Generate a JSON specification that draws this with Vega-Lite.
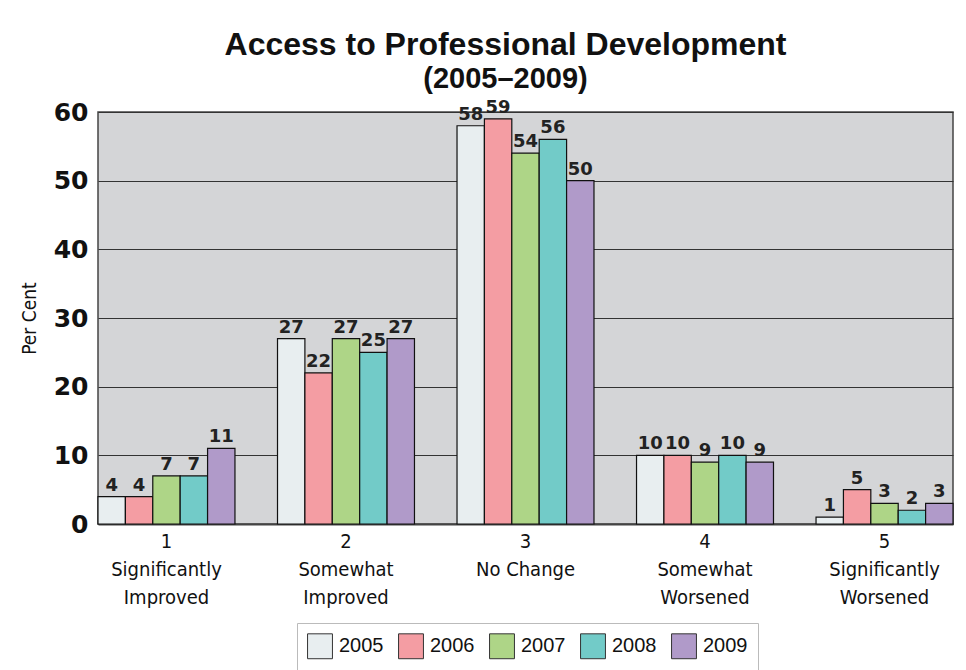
{
  "$schema": "https://vega.github.io/schema/vega-lite/v6.json",
  "width": 855,
  "height": 412,
  "autosize": {"type": "none"},
  "padding": {"left": 98, "top": 112, "right": 13, "bottom": 146},
  "background": "white",
  "title": {
    "text": "Access to Professional Development",
    "subtitle": "(2005–2009)",
    "font": "Liberation Sans",
    "fontSize": 32,
    "fontWeight": "bold",
    "color": "#111",
    "subtitleFont": "Liberation Sans",
    "subtitleFontSize": 29,
    "subtitleFontWeight": "bold",
    "subtitleColor": "#111",
    "subtitlePadding": 3,
    "anchor": "middle",
    "dx": -20,
    "offset": 4
  },
  "data": {
    "values": [
      {"cat": "1|Significantly|Improved", "year": "2005", "value": 4},
      {"cat": "1|Significantly|Improved", "year": "2006", "value": 4},
      {"cat": "1|Significantly|Improved", "year": "2007", "value": 7},
      {"cat": "1|Significantly|Improved", "year": "2008", "value": 7},
      {"cat": "1|Significantly|Improved", "year": "2009", "value": 11},
      {"cat": "2|Somewhat|Improved", "year": "2005", "value": 27},
      {"cat": "2|Somewhat|Improved", "year": "2006", "value": 22},
      {"cat": "2|Somewhat|Improved", "year": "2007", "value": 27},
      {"cat": "2|Somewhat|Improved", "year": "2008", "value": 25},
      {"cat": "2|Somewhat|Improved", "year": "2009", "value": 27},
      {"cat": "3|No Change", "year": "2005", "value": 58},
      {"cat": "3|No Change", "year": "2006", "value": 59},
      {"cat": "3|No Change", "year": "2007", "value": 54},
      {"cat": "3|No Change", "year": "2008", "value": 56},
      {"cat": "3|No Change", "year": "2009", "value": 50},
      {"cat": "4|Somewhat|Worsened", "year": "2005", "value": 10},
      {"cat": "4|Somewhat|Worsened", "year": "2006", "value": 10},
      {"cat": "4|Somewhat|Worsened", "year": "2007", "value": 9},
      {"cat": "4|Somewhat|Worsened", "year": "2008", "value": 10},
      {"cat": "4|Somewhat|Worsened", "year": "2009", "value": 9},
      {"cat": "5|Significantly|Worsened", "year": "2005", "value": 1},
      {"cat": "5|Significantly|Worsened", "year": "2006", "value": 5},
      {"cat": "5|Significantly|Worsened", "year": "2007", "value": 3},
      {"cat": "5|Significantly|Worsened", "year": "2008", "value": 2},
      {"cat": "5|Significantly|Worsened", "year": "2009", "value": 3}
    ]
  },
  "encoding": {
    "x": {
      "field": "cat",
      "type": "nominal",
      "scale": {"paddingInner": 0.237, "paddingOuter": 0},
      "axis": {
        "title": null,
        "labelAngle": 0,
        "labelExpr": "split(datum.label, '|')",
        "labelFont": "DejaVu Sans Condensed, Roboto Condensed, Roboto, sans-serif",
        "labelFontSize": 20,
        "labelColor": "#111",
        "labelLineHeight": 28,
        "labelPadding": 7,
        "ticks": false,
        "domain": true,
        "domainColor": "#444",
        "domainWidth": 2,
        "grid": false
      }
    },
    "xOffset": {"field": "year", "type": "nominal", "scale": {"paddingInner": 0, "paddingOuter": 0}},
    "y": {
      "field": "value",
      "type": "quantitative",
      "scale": {"domain": [0, 60], "nice": false},
      "axis": {
        "title": "Per Cent",
        "titleFont": "DejaVu Sans Condensed, Roboto Condensed, Roboto, sans-serif",
        "titleFontSize": 19,
        "titleFontWeight": "normal",
        "titleColor": "#111",
        "titlePadding": 14,
        "values": [0, 10, 20, 30, 40, 50, 60],
        "labelFont": "DejaVu Sans",
        "labelFontSize": 25,
        "labelFontWeight": "bold",
        "labelColor": "#111",
        "labelPadding": 10,
        "ticks": false,
        "domain": false,
        "grid": true,
        "gridColor": "#333",
        "gridWidth": 1,
        "gridOpacity": 1
      }
    }
  },
  "layer": [
    {
      "mark": {"type": "bar", "stroke": "#111", "strokeWidth": 1.2},
      "encoding": {
        "color": {
          "field": "year",
          "type": "nominal",
          "scale": {"domain": ["2005", "2006", "2007", "2008", "2009"], "range": ["#e8eef0", "#f49da3", "#aed587", "#72cbc8", "#b09ac9"]},
          "legend": {
            "title": null,
            "orient": "none",
            "legendX": 199,
            "legendY": 511,
            "direction": "horizontal",
            "symbolType": "square",
            "symbolSize": 620,
            "symbolStrokeColor": "#333",
            "symbolStrokeWidth": 1,
            "labelFont": "Liberation Sans",
            "labelFontSize": 20,
            "labelColor": "#111",
            "labelOffset": 6,
            "columnPadding": 12,
            "strokeColor": "#bbb",
            "padding": 10
          }
        }
      }
    },
    {
      "mark": {"type": "text", "baseline": "bottom", "dy": -2, "font": "DejaVu Sans", "fontSize": 18, "fontWeight": "bold", "color": "#222"},
      "encoding": {
        "text": {"field": "value", "type": "quantitative"}
      }
    }
  ],
  "config": {
    "view": {"fill": "#d4d5d7", "stroke": "#444", "strokeWidth": 1.5}
  }
}
